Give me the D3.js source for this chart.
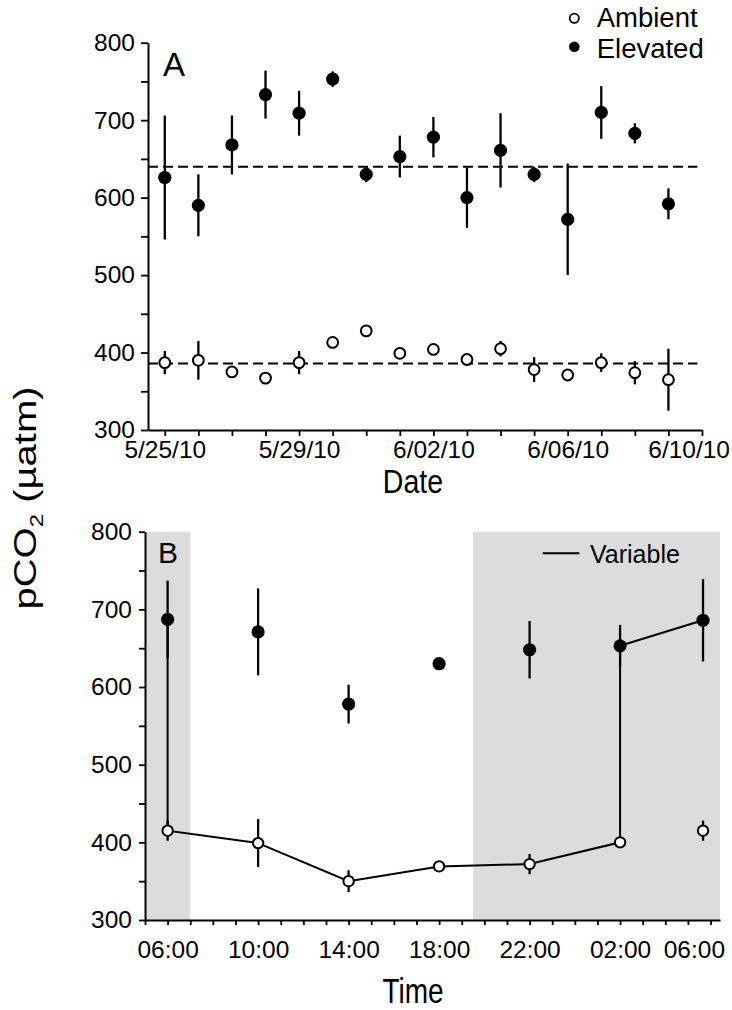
<!DOCTYPE html>
<html><head><meta charset="utf-8">
<script src="https://cdn.jsdelivr.net/npm/d3@7"></script>
<style>
body{margin:0;background:#fff}
svg{display:block}
text{font-family:"Liberation Sans",Arial,Helvetica,sans-serif;fill:#000}
</style>
</head><body>
<svg id="chart" width="732" height="1010"></svg>
<script>
// ---------- Panel A data (daily) ----------
const dailyDates = ["2010-05-25","2010-05-26","2010-05-27","2010-05-28","2010-05-29","2010-05-30","2010-05-31","2010-06-01",
                    "2010-06-02","2010-06-03","2010-06-04","2010-06-05","2010-06-06","2010-06-07","2010-06-08","2010-06-09"];
const elevatedMean = [626,590,668,733,709,753,630,653,678,600,661,630,572,710,683,592];
const elevatedErr  = [80, 40, 38, 31, 29, 10, 10, 27, 26, 39, 48, 10, 72, 34, 13, 20];
const ambientMean  = [387,390,375,367,387,413,428,399,404,391,405,378,371,387,374,365];
const ambientErr   = [15, 25, 3,  2,  15, 3,  3,  3,  3,  6,  10, 16, 6,  12, 15, 40];
const elevatedOverall = 640;
const ambientOverall = 386;
const dateDomain = ["2010-05-24T12:00","2010-06-10T00:00"];
const dateTickLabels = ["5/25/10","5/29/10","6/02/10","6/06/10","6/10/10"];

// ---------- Panel B data (diel) ----------
const dielTimes = ["2010-06-15T06:00","2010-06-15T10:00","2010-06-15T14:00","2010-06-15T18:00","2010-06-15T22:00","2010-06-16T02:00","2010-06-16T05:40"];
const dielElevated    = [687,671,578,630,648,653,686];
const dielElevatedErr = [50, 56, 25, 8,  37, 27, 53];
const dielAmbient     = [415,399,350,369,372,400,415];
const dielAmbientErr  = [13, 31, 14, 3,  13, 3,  13];
const variableTimes  = ["2010-06-15T06:00","2010-06-15T06:00","2010-06-15T10:00","2010-06-15T14:00","2010-06-15T18:00","2010-06-15T22:00","2010-06-16T02:00","2010-06-16T02:00","2010-06-16T05:40"];
const variableValues = [687,415,399,350,369,372,400,653,686];
const timeDomain = ["2010-06-15T05:00","2010-06-16T06:25"];
const nightBands = [["2010-06-15T05:00","2010-06-15T07:00"],["2010-06-15T19:30","2010-06-16T06:25"]];
const timeTickLabels = ["06:00","10:00","14:00","18:00","22:00","02:00","06:00"];

const yTicks = [300,350,400,450,500,550,600,650,700,750,800];
const yLabels = [300,400,500,600,700,800];

// ---------- setup ----------
const parse = d3.timeParse("%Y-%m-%dT%H:%M");
const parseDay = d3.timeParse("%Y-%m-%d");
const svg = d3.select("#chart");
const W = 732;
const FONT_TICK = 24.5;

function styleAxis(g){
  g.selectAll("path.domain").attr("stroke","#000").attr("stroke-width",2);
  g.selectAll(".tick line").attr("stroke","#000").attr("stroke-width",1.8);
  g.selectAll(".tick text").style("font-size",FONT_TICK+"px").attr("fill","#000");
  g.attr("font-family",null);
}
function keepInside(g, limit){
  g.selectAll(".tick text").each(function(){
    const b=this.getBBox(); const tr=this.parentNode.transform.baseVal.consolidate();
    const tx = tr? tr.matrix.e : 0;
    const right = tx + b.x + b.width;
    if(right > limit){ d3.select(this).attr("x", limit-right); }
  });
}

// ===== Panel A =====
const xA = d3.scaleTime().domain(dateDomain.map(parse)).range([148,702]);
const yA = d3.scaleLinear().domain([300,800]).range([430,42.7]);
const gA = svg.append("g");

[elevatedOverall, ambientOverall].forEach(v=>{
  gA.append("line").attr("x1",xA.range()[0]).attr("x2",xA(parseDay("2010-06-09"))+29)
    .attr("y1",yA(v)).attr("y2",yA(v))
    .attr("stroke","#000").attr("stroke-width",2).attr("stroke-dasharray","10,5");
});

const daily = dailyDates.map((d,i)=>({t:parseDay(d),e:elevatedMean[i],ee:elevatedErr[i],a:ambientMean[i],ae:ambientErr[i]}));
gA.selectAll(".eb").data(daily).join("line")
  .attr("x1",d=>xA(d.t)).attr("x2",d=>xA(d.t)).attr("y1",d=>yA(d.e-d.ee)).attr("y2",d=>yA(d.e+d.ee))
  .attr("stroke","#000").attr("stroke-width",2.3);
gA.selectAll(".ab").data(daily).join("line")
  .attr("x1",d=>xA(d.t)).attr("x2",d=>xA(d.t)).attr("y1",d=>yA(d.a-d.ae)).attr("y2",d=>yA(d.a+d.ae))
  .attr("stroke","#000").attr("stroke-width",2.3);
gA.selectAll(".em").data(daily).join("circle")
  .attr("cx",d=>xA(d.t)).attr("cy",d=>yA(d.e)).attr("r",6.6).attr("fill","#000");
gA.selectAll(".am").data(daily).join("circle")
  .attr("cx",d=>xA(d.t)).attr("cy",d=>yA(d.a)).attr("r",5.4).attr("fill","#fff").attr("stroke","#000").attr("stroke-width",2);

const fmtDay = d3.timeFormat("%-m/%d/%y");
const dayTicks = d3.timeDay.range(parseDay("2010-05-25"), parse("2010-06-10T01:00"));
const axA_y = gA.append("g").attr("transform","translate(148,0)")
  .call(d3.axisLeft(yA).tickValues(yTicks).tickSize(7).tickSizeOuter(0).tickFormat(d=>yLabels.includes(d)?d:""));
styleAxis(axA_y);
axA_y.selectAll(".tick text").attr("x",-13);
const axA_x = gA.append("g").attr("transform","translate(0,430)")
  .call(d3.axisBottom(xA).tickValues(dayTicks).tickSize(6).tickSizeOuter(0)
    .tickFormat(d=>dateTickLabels.includes(fmtDay(d))?fmtDay(d):""));
styleAxis(axA_x);
axA_x.selectAll(".tick text").attr("y",11);
keepInside(axA_x, W-2);

gA.append("text").attr("transform","translate(413,493) scale(0.84,1)").attr("text-anchor","middle").style("font-size","34px").text("Date");
gA.append("text").attr("x",163).attr("y",76).style("font-size","33px").text("A");

gA.append("circle").attr("cx",574.3).attr("cy",18.3).attr("r",4.6).attr("fill","#fff").attr("stroke","#000").attr("stroke-width",1.8);
gA.append("text").attr("x",596.7).attr("y",26.7).style("font-size","27.5px").text("Ambient");
gA.append("circle").attr("cx",574.3).attr("cy",46.7).attr("r",5.3).attr("fill","#000");
gA.append("text").attr("x",596.7).attr("y",58.3).style("font-size","27.5px").text("Elevated");

// ===== Panel B =====
const xB = d3.scaleTime().domain(timeDomain.map(parse)).range([145,720]);
const yB = d3.scaleLinear().domain([300,800]).range([920,531.7]);
const gB = svg.append("g");

gB.selectAll(".band").data(nightBands).join("rect")
  .attr("x",d=>xB(parse(d[0]))).attr("width",d=>xB(parse(d[1]))-xB(parse(d[0])))
  .attr("y",yB(800)).attr("height",yB(300)-yB(800)).attr("fill","#dddcdd");

const diel = dielTimes.map((t,i)=>({t:parse(t),e:dielElevated[i],ee:dielElevatedErr[i],a:dielAmbient[i],ae:dielAmbientErr[i]}));
gB.selectAll(".eb").data(diel).join("line")
  .attr("x1",d=>xB(d.t)).attr("x2",d=>xB(d.t)).attr("y1",d=>yB(d.e-d.ee)).attr("y2",d=>yB(d.e+d.ee))
  .attr("stroke","#000").attr("stroke-width",2.3);
gB.selectAll(".ab").data(diel).join("line")
  .attr("x1",d=>xB(d.t)).attr("x2",d=>xB(d.t)).attr("y1",d=>yB(d.a-d.ae)).attr("y2",d=>yB(d.a+d.ae))
  .attr("stroke","#000").attr("stroke-width",2.3);

const variable = variableTimes.map((t,i)=>({t:parse(t),v:variableValues[i]}));
gB.append("path").datum(variable)
  .attr("d",d3.line().x(d=>xB(d.t)).y(d=>yB(d.v)))
  .attr("fill","none").attr("stroke","#000").attr("stroke-width",2);

gB.selectAll(".em").data(diel).join("circle")
  .attr("cx",d=>xB(d.t)).attr("cy",d=>yB(d.e)).attr("r",6.6).attr("fill","#000");
gB.selectAll(".am").data(diel).join("circle")
  .attr("cx",d=>xB(d.t)).attr("cy",d=>yB(d.a)).attr("r",5.2).attr("fill","#fff").attr("stroke","#000").attr("stroke-width",2);

const fmtTime = d3.timeFormat("%H:%M");
const hourTicks = d3.timeHour.range(parse("2010-06-15T05:00"), parse("2010-06-16T06:10"));
const axB_y = gB.append("g").attr("transform","translate(145,0)")
  .call(d3.axisLeft(yB).tickValues(yTicks).tickSize(6).tickSizeOuter(0).tickFormat(d=>yLabels.includes(d)?d:""));
styleAxis(axB_y);
axB_y.selectAll(".tick text").attr("x",-13);
const axB_x = gB.append("g").attr("transform","translate(0,920)")
  .call(d3.axisBottom(xB).tickValues(hourTicks).tickSize(5).tickSizeOuter(0)
    .tickFormat(d=>timeTickLabels.includes(fmtTime(d)) && d.getHours()%4===2 ? fmtTime(d) : ""));
styleAxis(axB_x);
axB_x.selectAll(".tick text").attr("y",21);
keepInside(axB_x, W-7);

gB.append("text").attr("transform","translate(413,1003) scale(0.8,1)").attr("text-anchor","middle").style("font-size","35px").text("Time");
gB.append("text").attr("x",158).attr("y",563).style("font-size","30px").text("B");

gB.append("line").attr("x1",542.7).attr("x2",579.3).attr("y1",553.3).attr("y2",553.3).attr("stroke","#000").attr("stroke-width",2);
gB.append("text").attr("x",590).attr("y",563.3).style("font-size","25px").text("Variable");

// shared y title
const yt = svg.append("text").attr("transform","translate(36,498) rotate(-90) scale(1,0.8)").attr("text-anchor","middle").style("font-size","40px");
yt.append("tspan").text("pCO");
yt.append("tspan").style("font-size","24px").attr("dy",9).text("2");
yt.append("tspan").attr("dy",-9).text(" (\u00B5atm)");
</script>
</body></html>
